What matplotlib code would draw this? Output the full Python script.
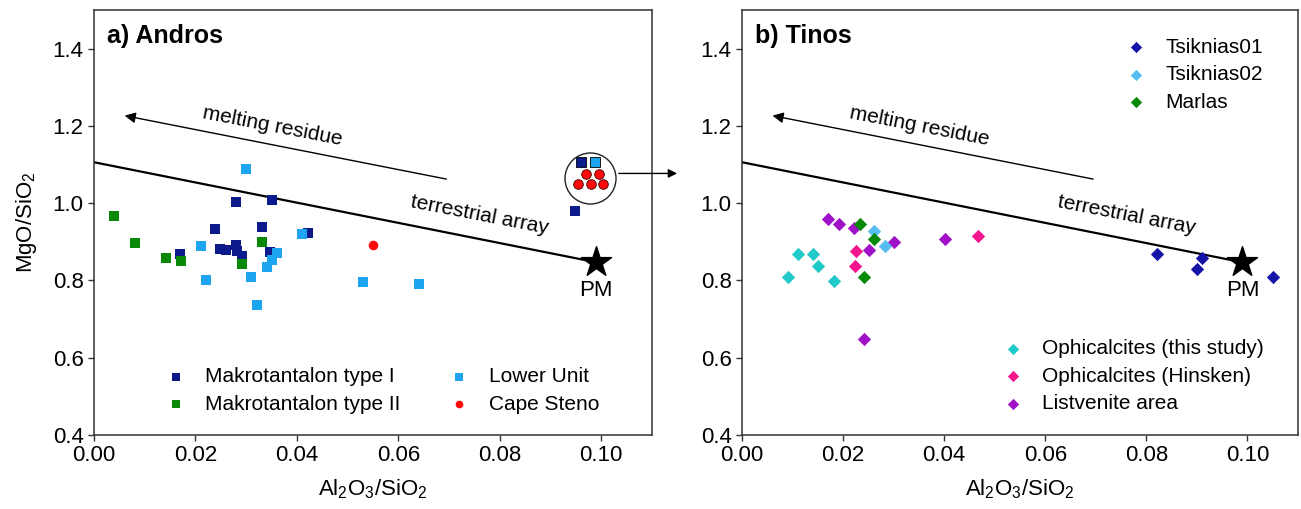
import numpy as np
import matplotlib
matplotlib.use('Agg')
import matplotlib.pyplot as plt
from matplotlib.transforms import ScaledTranslation

plt.rcParams['font.family'] = ['Liberation Sans', 'DejaVu Sans']
plt.rcParams['mathtext.default'] = 'regular'

# ---- data: panel a) Andros ----
mak1_x = [0.0280, 0.0351, 0.0239, 0.0331, 0.0421, 0.0170, 0.0249, 0.0260,
          0.0280, 0.0282, 0.0291, 0.0347, 0.0949]
mak1_y = [1.004, 1.009, 0.934, 0.938, 0.924, 0.868, 0.882, 0.878,
          0.891, 0.875, 0.863, 0.874, 0.980]
mak2_x = [0.0040, 0.0081, 0.0141, 0.0171, 0.0331, 0.0291]
mak2_y = [0.968, 0.898, 0.857, 0.850, 0.900, 0.842]
lower_x = [0.0300, 0.0211, 0.0220, 0.0310, 0.0321, 0.0341, 0.0351, 0.0361,
           0.0410, 0.0530, 0.0640]
lower_y = [1.089, 0.890, 0.802, 0.809, 0.737, 0.835, 0.852, 0.872,
           0.921, 0.795, 0.791]
steno_x = [0.0550]
steno_y = [0.893]

# ---- data: panel b) Tinos ----
ts01_x = [0.0822, 0.0910, 0.0901, 0.1050]
ts01_y = [0.868, 0.858, 0.829, 0.809]
ts02_x = [0.0261, 0.0282]
ts02_y = [0.928, 0.888]
marlas_x = [0.0233, 0.0261, 0.0241]
marlas_y = [0.947, 0.907, 0.808]
oph_x = [0.0111, 0.0141, 0.0151, 0.0091, 0.0182]
oph_y = [0.868, 0.868, 0.838, 0.809, 0.799]
hin_x = [0.0226, 0.0224, 0.0467]
hin_y = [0.876, 0.837, 0.915]
list_x = [0.0171, 0.0191, 0.0221, 0.0251, 0.0301, 0.0401, 0.0241]
list_y = [0.959, 0.947, 0.937, 0.878, 0.899, 0.908, 0.649]

# primitive mantle and terrestrial array
pm = (0.099, 0.847)
array_start = (0.0, 1.106)
residue_arrow = ((0.070, 1.061), (0.0055, 1.228))

c_navy = '#0c1a8c'
c_light = '#1ea5f2'
c_green = '#088a08'
c_red = '#ff0a0a'
c_ts01 = '#1414a8'
c_ts02 = '#55bdf0'
c_oph = '#22c9c9'
c_hin = '#f2168c'
c_list = '#a012c8'

FS = 15
fig = plt.figure(figsize=(13.01, 5.09), dpi=100)
axa = fig.add_axes([94 / 1301, 74 / 509, 558 / 1301, 425 / 509])
axb = fig.add_axes([742 / 1301, 74 / 509, 556 / 1301, 425 / 509])


def common(ax):
    ax.set_xlim(0, 0.11)
    ax.set_ylim(0.4, 1.5)
    ax.set_xticks(np.arange(0, 0.101, 0.02))
    ax.set_yticks(np.arange(0.4, 1.41, 0.2))
    ax.xaxis.set_major_formatter(matplotlib.ticker.FormatStrFormatter('%.2f'))
    ax.yaxis.set_major_formatter(matplotlib.ticker.FormatStrFormatter('%.1f'))
    ax.tick_params(labelsize=16, length=4, width=1, color='#333333')
    for s in ax.spines.values():
        s.set_linewidth(1.1)
        s.set_color('#333333')
    ax.set_xlabel(r'Al$_2$O$_3$/SiO$_2$', fontsize=16, labelpad=8)
    # terrestrial array
    ax.plot([array_start[0], pm[0]], [array_start[1], pm[1]], color='black', lw=1.6, zorder=2)
    ax.annotate('', xy=residue_arrow[1], xytext=residue_arrow[0],
                arrowprops=dict(arrowstyle='-|>', color='black', lw=1.0, mutation_scale=16))
    ax.text(0.0351, 1.198, 'melting residue', fontsize=FS, rotation=-11,
            ha='center', va='center')
    ax.text(0.0760, 0.970, 'terrestrial array', fontsize=FS, rotation=-11,
            ha='center', va='center')
    ax.scatter([pm[0]], [pm[1]], marker='*', s=520, color='black', zorder=5)
    ax.text(pm[0], pm[1] - 0.045, 'PM', fontsize=16, ha='center', va='top')


common(axa)
common(axb)
axa.set_ylabel(r'MgO/SiO$_2$', fontsize=16, labelpad=10)

# panel a
ms = 50
h1 = axa.scatter(mak1_x, mak1_y, marker='s', s=ms, color=c_navy, lw=0, zorder=3)
h2 = axa.scatter(mak2_x, mak2_y, marker='s', s=ms, color=c_green, lw=0, zorder=3)
h3 = axa.scatter(lower_x, lower_y, marker='s', s=ms, color=c_light, lw=0, zorder=4)
h4 = axa.scatter(steno_x, steno_y, marker='o', s=48, color=c_red, lw=0, zorder=4)
axa.text(0.023, 0.94, 'a) Andros', transform=axa.transAxes, fontsize=18,
         fontweight='bold', va='center')

# inset: off-scale samples
ic = (0.0977, 1.064)
axa.scatter([ic[0]], [ic[1]], marker='o', s=1350, facecolor='white',
            edgecolor='#222222', lw=1.0, zorder=5)
axa.annotate('', xy=(0.1155, 1.077), xytext=(0.1029, 1.077), annotation_clip=False,
             arrowprops=dict(arrowstyle='-|>', color='black', lw=1.0, mutation_scale=13))
inset = [('s', c_navy, -6.5, 11.5), ('s', c_light, 3.6, 11.5),
         ('o', c_red, -2.9, 3.4), ('o', c_red, 6.7, 3.4),
         ('o', c_red, -8.1, -4.3), ('o', c_red, 0.7, -4.3), ('o', c_red, 9.8, -4.3)]
for mk, col, dx, dy in inset:
    tr = axa.transData + ScaledTranslation(dx / 72, dy / 72, fig.dpi_scale_trans)
    axa.scatter([ic[0]], [ic[1]], marker=mk, s=48, facecolor=col, edgecolor='#400000' if mk == 'o' else 'black',
                lw=0.6, transform=tr, zorder=6, clip_on=False)

axa.legend([h1, h2, h3, h4],
           ['Makrotantalon type I', 'Makrotantalon type II', 'Lower Unit', 'Cape Steno'],
           ncol=2, loc='lower left', bbox_to_anchor=(0.105, 0.026), frameon=False,
           fontsize=FS, handlelength=1.2, handletextpad=0.8, labelspacing=0.4,
           columnspacing=2.25, borderpad=0, scatterpoints=1, markerscale=0.8)

# panel b
md = 46
k1 = axb.scatter(ts01_x, ts01_y, marker='D', s=md, color=c_ts01, lw=0, zorder=3)
k2 = axb.scatter(ts02_x, ts02_y, marker='D', s=md, color=c_ts02, lw=0, zorder=4)
k3 = axb.scatter(marlas_x, marlas_y, marker='D', s=md, color=c_green, lw=0, zorder=4)
k4 = axb.scatter(oph_x, oph_y, marker='D', s=md, color=c_oph, lw=0, zorder=3)
k5 = axb.scatter(hin_x, hin_y, marker='D', s=md, color=c_hin, lw=0, zorder=3)
k6 = axb.scatter(list_x, list_y, marker='D', s=md, color=c_list, lw=0, zorder=3)
axb.text(0.023, 0.94, 'b) Tinos', transform=axb.transAxes, fontsize=18,
         fontweight='bold', va='center')

lg1 = axb.legend([k1, k2, k3], ['Tsiknias01', 'Tsiknias02', 'Marlas'],
                 loc='upper left', bbox_to_anchor=(0.668, 0.959), frameon=False,
                 fontsize=FS, handlelength=1.2, handletextpad=0.8, labelspacing=0.4,
                 borderpad=0, scatterpoints=1, markerscale=0.85)
axb.add_artist(lg1)
axb.legend([k4, k5, k6], ['Ophicalcites (this study)', 'Ophicalcites (Hinsken)', 'Listvenite area'],
           loc='lower left', bbox_to_anchor=(0.4456, 0.027), frameon=False,
           fontsize=FS, handlelength=1.2, handletextpad=0.8, labelspacing=0.4,
           borderpad=0, scatterpoints=1, markerscale=0.85)

fig.savefig('out.png', dpi=100)
